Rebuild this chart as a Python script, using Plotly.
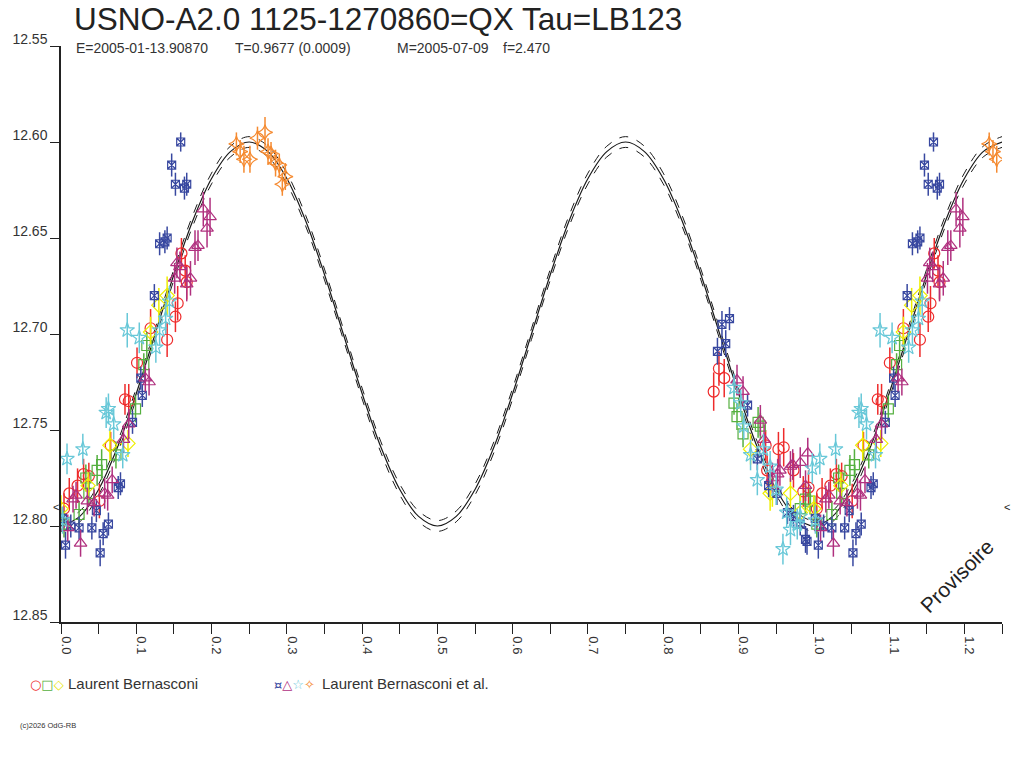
import numpy as np
import plotly.graph_objects as go

# --- model light curve (every 0.025 in phase) ---
model_phase = [round(0.025 * i, 3) for i in range(51)]
model_mag = [12.800, 12.795, 12.781, 12.759, 12.731, 12.700, 12.669, 12.641, 12.619, 12.605,
             12.600, 12.605, 12.619, 12.641, 12.669, 12.700, 12.731, 12.759, 12.781, 12.795,
             12.800, 12.795, 12.781, 12.759, 12.731, 12.700, 12.669, 12.641, 12.619, 12.605,
             12.600, 12.605, 12.619, 12.641, 12.669, 12.700, 12.731, 12.759, 12.781, 12.795,
             12.800, 12.795, 12.781, 12.759, 12.731, 12.700, 12.669, 12.641, 12.619, 12.605,
             12.600]
model_sigma = 0.0028

# --- observations: Laurent Bernasconi ---
red_phase = [0.004, 0.011, 0.022, 0.030, 0.037, 0.051, 0.066, 0.085, 0.090, 0.101, 0.119,
             0.141, 0.152, 0.155, 0.160, 0.165, 0.167, 0.867, 0.874, 0.881, 0.936, 0.953,
             0.960, 0.938, 0.973, 0.986, 0.993]
red_mag = [12.791, 12.783, 12.779, 12.773, 12.774, 12.787, 12.758, 12.734, 12.735, 12.715, 12.697,
           12.703, 12.691, 12.684, 12.658, 12.667, 12.673, 12.730, 12.718, 12.723, 12.758, 12.760,
           12.759, 12.771, 12.771, 12.782, 12.780]
red_err = [0.008, 0.008, 0.009, 0.008, 0.007, 0.009, 0.007, 0.008, 0.009, 0.008, 0.010,
           0.009, 0.008, 0.009, 0.008, 0.008, 0.009, 0.010, 0.009, 0.010, 0.008, 0.009,
           0.010, 0.008, 0.009, 0.008, 0.009]

green_phase = [0.004, 0.024, 0.033, 0.037, 0.048, 0.054, 0.073, 0.099, 0.110, 0.114,
               0.894, 0.898, 0.906, 0.926, 0.929, 0.982, 0.989, 0.995]
green_mag = [12.799, 12.794, 12.775, 12.783, 12.771, 12.768, 12.763, 12.739, 12.716, 12.706,
             12.736, 12.743, 12.752, 12.746, 12.748, 12.791, 12.786, 12.787]
green_err = [0.007, 0.007, 0.007, 0.006, 0.008, 0.008, 0.007, 0.007, 0.006, 0.007,
             0.006, 0.007, 0.007, 0.008, 0.007, 0.007, 0.008, 0.007]

yellow_phase = [0.000, 0.036, 0.065, 0.089, 0.119, 0.130, 0.141, 0.916, 0.942, 0.945, 0.969, 0.982]
yellow_mag = [12.791, 12.779, 12.758, 12.757, 12.699, 12.685, 12.680, 12.760, 12.783, 12.782,
              12.783, 12.793]
yellow_err = [0.007, 0.007, 0.008, 0.007, 0.008, 0.009, 0.010, 0.008, 0.009, 0.008, 0.008, 0.009]

# --- observations: Laurent Bernasconi et al. ---
blue_phase = [0.002, 0.006, 0.013, 0.024, 0.041, 0.047, 0.052, 0.056, 0.063, 0.076, 0.079,
              0.095, 0.106, 0.108, 0.124, 0.131, 0.138, 0.141, 0.147, 0.152, 0.159, 0.164,
              0.167, 0.872, 0.878, 0.883, 0.888, 0.912, 0.925, 0.940, 0.951, 0.965, 0.973,
              0.982, 0.989, 0.991]
blue_mag = [12.796, 12.810, 12.800, 12.801, 12.801, 12.792, 12.814, 12.804, 12.799, 12.780, 12.778,
            12.746, 12.723, 12.732, 12.680, 12.653, 12.652, 12.650, 12.612, 12.622, 12.600, 12.624,
            12.622, 12.709, 12.695, 12.705, 12.692, 12.737, 12.765, 12.779, 12.783, 12.793, 12.795,
            12.799, 12.807, 12.808]
blue_err = [0.006, 0.007, 0.006, 0.006, 0.006, 0.006, 0.007, 0.006, 0.006, 0.006, 0.006,
            0.006, 0.006, 0.006, 0.006, 0.006, 0.006, 0.006, 0.006, 0.006, 0.005, 0.006,
            0.006, 0.007, 0.007, 0.007, 0.006, 0.006, 0.006, 0.006, 0.006, 0.006, 0.006,
            0.006, 0.007, 0.007]

purple_phase = [0.009, 0.016, 0.020, 0.026, 0.035, 0.044, 0.058, 0.062, 0.068, 0.083, 0.090,
                0.112, 0.117, 0.151, 0.154, 0.158, 0.167, 0.172, 0.178, 0.182, 0.189, 0.194,
                0.198, 0.898, 0.906, 0.929, 0.934, 0.945, 0.952, 0.955, 0.969, 0.972, 0.982,
                0.989, 0.992]
purple_mag = [12.801, 12.786, 12.784, 12.809, 12.787, 12.788, 12.783, 12.784, 12.776, 12.755, 12.747,
              12.723, 12.725, 12.671, 12.663, 12.665, 12.674, 12.671, 12.655, 12.654, 12.635, 12.645,
              12.639, 12.724, 12.730, 12.745, 12.755, 12.775, 12.773, 12.771, 12.769, 12.768, 12.767,
              12.779, 12.762]
purple_err = [0.007, 0.007, 0.007, 0.007, 0.007, 0.007, 0.008, 0.008, 0.007, 0.007, 0.008,
              0.007, 0.007, 0.008, 0.008, 0.008, 0.009, 0.009, 0.009, 0.008, 0.009, 0.010,
              0.010, 0.008, 0.008, 0.008, 0.008, 0.008, 0.008, 0.008, 0.008, 0.008, 0.008,
              0.008, 0.008]

cyan_phase = [0.002, 0.008, 0.029, 0.060, 0.063, 0.070, 0.082, 0.088, 0.104, 0.126, 0.131,
              0.139, 0.144, 0.894, 0.903, 0.907, 0.916, 0.925, 0.933, 0.942, 0.950, 0.959,
              0.964, 0.969, 0.978, 0.982, 0.998]
cyan_mag = [12.797, 12.765, 12.760, 12.741, 12.739, 12.747, 12.763, 12.698, 12.702, 12.707, 12.698,
            12.692, 12.683, 12.728, 12.736, 12.748, 12.763, 12.776, 12.760, 12.769, 12.781, 12.812,
            12.793, 12.802, 12.799, 12.795, 12.770]
cyan_err = [0.007, 0.008, 0.008, 0.008, 0.008, 0.008, 0.007, 0.009, 0.008, 0.008, 0.008,
            0.008, 0.008, 0.007, 0.007, 0.007, 0.008, 0.008, 0.008, 0.008, 0.008, 0.008,
            0.008, 0.008, 0.008, 0.008, 0.008]

orange_phase = [0.233, 0.238, 0.243, 0.251, 0.261, 0.271, 0.275, 0.279, 0.285, 0.290, 0.294, 0.298]
orange_mag = [12.601, 12.605, 12.609, 12.609, 12.598, 12.595, 12.605, 12.606, 12.611, 12.612,
              12.622, 12.618]
orange_err = [0.006, 0.006, 0.007, 0.007, 0.006, 0.008, 0.007, 0.006, 0.007, 0.006, 0.006, 0.007]

series = [
    (red_phase, red_mag, red_err, "#ee2b2b", "circle-open", 11),
    (green_phase, green_mag, green_err, "#55b040", "square-open", 10),
    (yellow_phase, yellow_mag, yellow_err, "#eeee00", "diamond-open", 11),
    (blue_phase, blue_mag, blue_err, "#3848a0", "square-x-open", 8),
    (purple_phase, purple_mag, purple_err, "#b0307f", "triangle-up-open", 11),
    (cyan_phase, cyan_mag, cyan_err, "#68c8d8", "star-open", 11),
    (orange_phase, orange_mag, orange_err, "#f58a30", "star-diamond-open", 11),
]

X_MAX = 1.25
W, H = 1024, 768
ML, MR, MT, MB = 57, 22, 46, 146


def px(x):
    return (x - ML) / (W - ML - MR)


def py(y):
    return (H - MB - y) / (H - MT - MB)


fig = go.Figure()

# model curve with its envelope
mm = np.array(model_mag)
for off, dash, w in [(-model_sigma, "dash", 1), (0, "solid", 1.2), (model_sigma, "dash", 1)]:
    fig.add_trace(go.Scatter(x=model_phase, y=mm + off, mode="lines",
                             line=dict(color="#1a1a1a", width=w, dash=dash, shape="spline")))

# observations, phase-folded and repeated past 1.0
for ph, mag, err, col, sym, size in series:
    ph = np.array(ph)
    mag = np.array(mag)
    err = np.array(err)
    keep = ph + 1 <= X_MAX
    x = np.concatenate([ph, ph[keep] + 1])
    y = np.concatenate([mag, mag[keep]])
    e = np.concatenate([err, err[keep]])
    fig.add_trace(go.Scatter(
        x=x, y=y, mode="markers",
        marker=dict(symbol=sym, size=size, color=col, line=dict(color=col, width=1.2)),
        error_y=dict(type="data", array=e, width=0, thickness=1.5, color=col),
    ))

x_ticks = [round(0.05 * i, 2) for i in range(26)]
x_text = ["%.1f" % t if i % 2 == 0 else "" for i, t in enumerate(x_ticks)]
y_ticks = [12.55, 12.60, 12.65, 12.70, 12.75, 12.80, 12.85]

fig.update_layout(
    width=W, height=H,
    margin=dict(l=ML, r=MR, t=MT, b=MB),
    paper_bgcolor="white", plot_bgcolor="white",
    showlegend=False,
    font=dict(family="Liberation Sans, Arial", color="#333"),
    xaxis=dict(range=[0, X_MAX], tickvals=x_ticks, ticktext=x_text, tickangle=90,
               ticks="outside", ticklen=10, tickcolor="#222", showline=True,
               linecolor="#222", linewidth=1.5, showgrid=False, zeroline=False,
               tickfont=dict(size=13, color="#333"), ticklabelshift=5),
    yaxis=dict(range=[12.85, 12.55], tickvals=y_ticks, ticktext=["%.2f" % v for v in y_ticks],
               ticks="outside", ticklen=9, tickcolor="#222", showline=True,
               linecolor="#222", linewidth=1.5, showgrid=False, zeroline=False,
               tickfont=dict(size=14, color="#333"), ticklabelshift=7, ticklabelstandoff=0),
)

ann = []
ann.append(dict(text="USNO-A2.0 1125-1270860=QX Tau=LB123", x=px(68), y=py(19),
                font=dict(size=31.5, color="#222")))
for txt, xp in [("E=2005-01-13.90870", 70), ("T=0.9677 (0.0009)", 230),
                ("M=2005-07-09", 392), ("f=2.470", 499)]:
    ann.append(dict(text=txt, x=px(xp), y=py(48), font=dict(size=14, color="#333")))

ann.append(dict(text='<span style="color:#ee2b2b">○</span><span style="color:#55b040">□</span>'
                     '<span style="color:#e6e600">◇</span>',
                x=px(24), y=py(684), font=dict(size=13, family="DejaVu Sans")))
ann.append(dict(text="Laurent Bernasconi", x=px(62), y=py(683), font=dict(size=15, color="#333")))
ann.append(dict(text='<span style="color:#3848a0">¤</span><span style="color:#b0307f">△</span>'
                     '<span style="color:#68c8d8">☆</span><span style="color:#f58a30">✧</span>',
                x=px(269), y=py(684), font=dict(size=13, family="DejaVu Sans")))
ann.append(dict(text="Laurent Bernasconi et al.", x=px(317), y=py(683),
                font=dict(size=15, color="#333")))
ann.append(dict(text="(c)2026 OdG-RB", x=px(14), y=py(725), font=dict(size=7.5, color="#333")))
ann.append(dict(text="Provisoire", x=px(956), y=py(576), xanchor="center", textangle=-45,
                font=dict(size=21, color="#222")))
ann.append(dict(text="&lt;", x=px(1007), y=py(507), xanchor="center", font=dict(size=11, color="#222")))
ann.append(dict(text="&lt;", x=px(52), y=py(507), xanchor="center", font=dict(size=11, color="#222")))

for a in ann:
    a.setdefault("xanchor", "left")
    a.update(xref="paper", yref="paper", yanchor="middle", showarrow=False)
fig.update_layout(annotations=ann)

# page body has a default 8px margin; remove it so the figure sits at the origin
fig.write_html("out.html", config={"displayModeBar": False},
               post_script="document.body.style.margin='0';")
